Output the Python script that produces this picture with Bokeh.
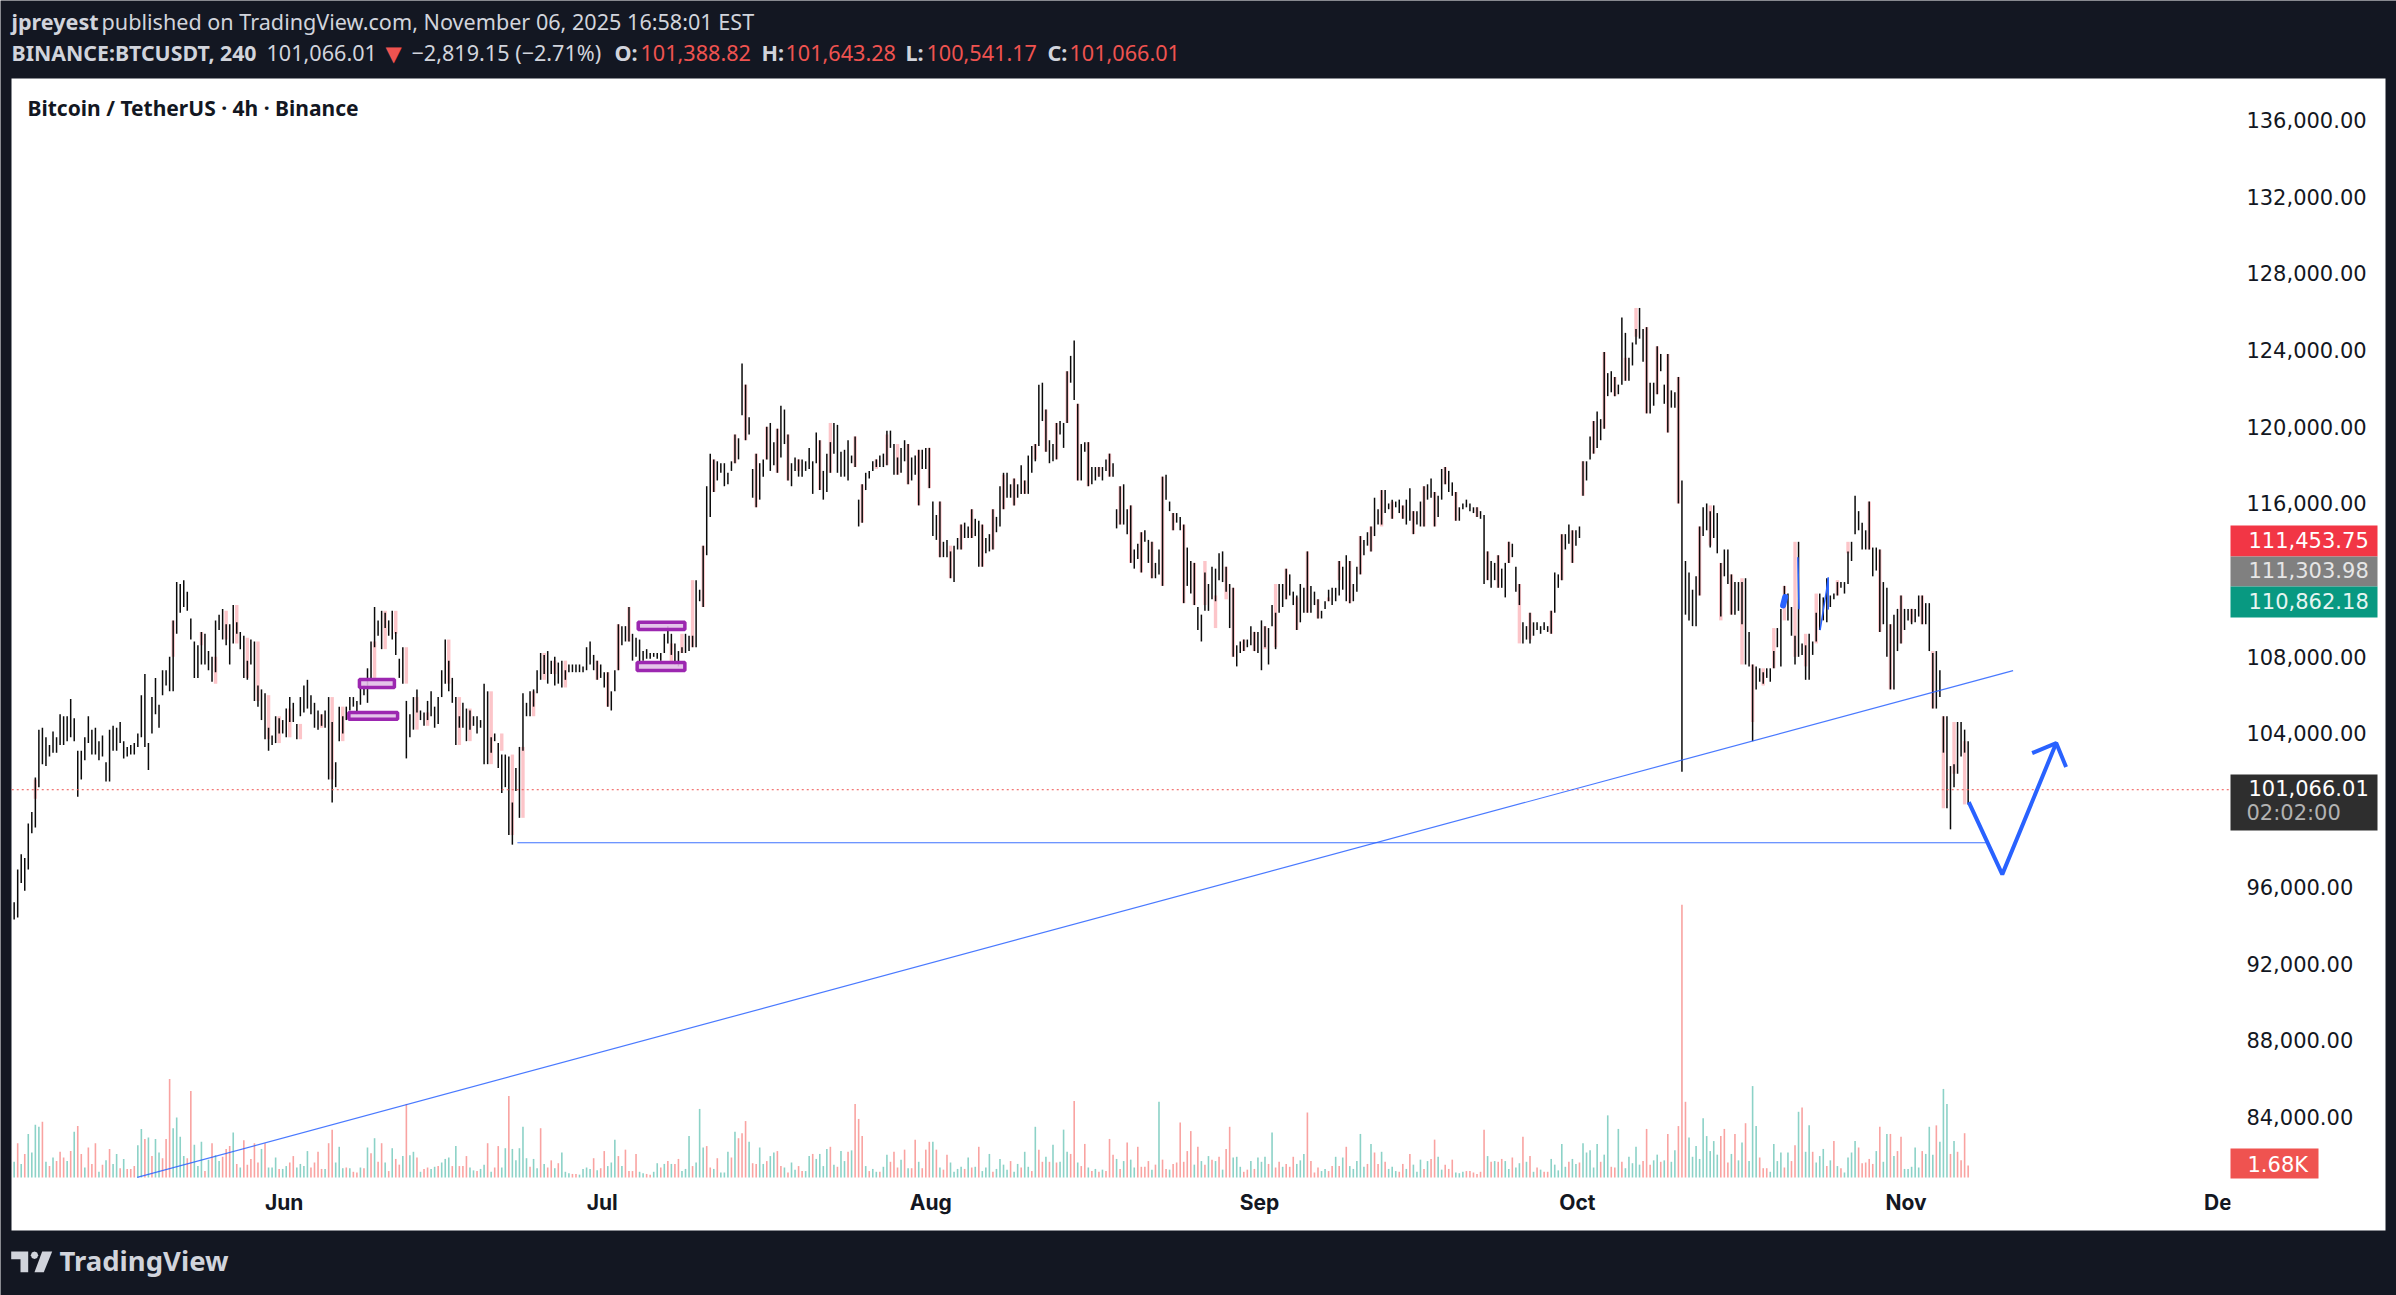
import pandas as pd
from bokeh.embed import file_html
from bokeh.models import (BoxAnnotation, DatetimeTickFormatter, FixedTicker, Label, NumeralTickFormatter,
                          PolyAnnotation, Range1d)
from bokeh.plotting import figure
from bokeh.resources import INLINE

# 8h readings, prices in thousands of USDT
highs = [
    95.2,96.9,97.7,97.5,99.3,99.9,101.7,104.2,104.3,103.8,
    103.4,104.1,103.8,105.0,104.9,104.9,105.8,104.8,103.1,103.1,
    103.8,104.9,104.2,104.3,103.6,103.9,102.5,104.2,104.4,104.3,
    104.6,103.6,103.3,103.4,103.5,104.0,106.0,107.1,103.5,105.9,
    106.9,105.5,107.3,107.3,108.0,109.9,111.9,111.8,112.0,111.4,
    110.0,108.8,108.6,109.3,109.2,108.3,108.0,109.9,110.2,110.5,
    109.7,109.7,110.7,109.8,109.3,109.1,107.8,108.9,108.8,106.5,
    106.3,106.1,104.3,103.9,104.9,104.8,104.7,105.3,105.9,105.6,
    104.5,105.9,106.5,106.8,106.0,105.6,105.2,105.0,105.2,105.9,
    104.6,102.5,105.4,104.9,105.4,105.9,105.9,105.7,106.5,106.5,
    107.4,108.8,110.6,109.9,110.4,110.3,109.9,110.4,109.3,107.9,
    108.5,105.7,105.0,105.9,106.3,105.2,105.1,105.7,106.2,105.4,
    105.9,107.3,108.9,107.8,106.9,105.9,104.9,105.6,105.3,105.2,
    104.9,104.9,104.7,106.6,106.2,103.8,104.0,103.5,102.9,102.9,
    102.8,100.4,102.2,103.3,106.1,105.6,106.2,106.3,107.3,108.2,
    108.1,108.3,107.8,108.0,107.7,107.8,107.3,107.6,107.6,107.6,
    107.6,107.5,108.5,108.8,108.1,107.8,107.6,107.2,107.2,106.2,
    107.3,109.7,109.6,109.6,110.6,109.2,109.0,108.9,108.3,108.4,
    108.2,108.2,108.2,108.2,109.2,109.6,109.2,108.7,108.3,108.5,
    109.2,109.1,109.1,112.0,111.5,113.8,
    116.9,118.6,118.3,118.2,118.1,118.1,117.6,118.2,119.6,119.4,
    123.3,122.2,120.5,117.8,118.6,118.1,118.3,120.0,120.2,119.2,
    119.9,121.1,120.9,119.6,118.1,118.4,118.3,118.3,118.2,118.9,
    118.2,119.7,119.3,117.7,118.6,119.2,120.2,120.1,118.7,118.8,
    119.3,118.5,119.5,116.2,117.0,117.6,117.7,118.2,118.3,118.5,
    118.6,119.8,119.8,119.1,118.4,118.9,119.3,119.1,118.4,118.5,
    118.8,118.8,118.9,118.9,116.1,115.4,116.1,114.0,114.1,113.5,
    113.8,114.2,114.9,115.0,114.8,115.7,115.2,115.1,114.9,114.2,
    114.4,115.7,115.3,116.9,117.6,117.6,117.0,117.3,117.0,118.0,
    117.2,118.5,119.0,119.1,122.2,122.3,120.9,119.3,119.1,120.2,
    120.3,120.2,122.9,123.7,124.5,121.2,119.1,119.2,119.2,117.9,
    117.9,117.9,117.9,118.3,118.6,118.1,115.7,116.9,117.0,115.7,
    115.9,113.6,113.9,114.5,114.6,114.1,114.0,112.9,113.6,117.4,
    117.5,116.1,115.5,115.5,115.3,114.9,113.7,113.0,112.9,110.6,
    110.2,112.4,111.8,112.7,112.6,113.4,113.5,112.7,111.8,111.6,
    108.6,108.8,108.9,108.9,109.6,109.3,109.3,109.9,109.6,109.5,
    110.7,110.3,111.8,111.8,112.6,112.3,111.4,111.2,111.8,111.6,
    113.5,111.7,111.4,111.0,110.4,110.9,111.5,111.6,111.6,113.0,
    112.7,113.3,113.0,111.8,112.7,114.3,114.1,114.5,114.8,116.3,
    115.7,116.7,116.7,116.0,116.2,116.1,116.2,115.9,116.2,116.8,
    115.6,115.6,116.1,116.9,117.0,117.3,116.6,116.4,117.8,117.9,
    117.7,117.1,116.6,115.8,116.0,116.2,116.0,115.8,115.8,115.6,
    115.4,113.5,113.0,112.9,113.3,112.6,112.9,114.0,113.9,112.7,
    111.8,109.8,109.6,110.3,109.8,109.8,109.6,109.8,109.6,110.4,
    112.4,112.3,114.4,114.4,114.9,114.6,114.6,114.8,118.2,118.2,
    119.5,120.3,120.8,120.4,123.9,122.8,122.9,122.6,122.2,125.7,
    124.9,123.6,124.4,125.1,126.2,125.1,125.2,122.3,122.3,124.2,
    123.8,122.2,123.8,121.9,121.8,122.6,117.2,113.0,112.4,111.5,
    112.2,114.8,115.8,116.0,115.6,115.9,115.5,112.9,113.6,113.6,
    112.3,111.9,111.9,111.9,112.1,109.3,107.6,107.5,107.4,107.2,
    107.4,107.4,108.3,109.5,110.5,111.7,111.3,110.6,109.1,114.0,
    108.7,108.6,109.2,108.8,110.3,111.3,111.1,112.1,111.2,111.3,
    111.9,111.9,111.9,113.5,114.0,116.4,115.6,115.0,114.6,116.1,
    113.7,113.7,113.6,111.9,111.6,109.7,110.2,110.5,111.2,110.5,
    110.5,110.5,110.5,111.2,111.2,110.8,110.8,108.2,108.3,107.3,
    104.9,104.9,102.3,102.4,104.6,104.6,104.2,103.6,
]
lows = [
    94.3,94.4,96.2,95.8,96.9,98.8,99.1,101.2,102.4,102.3,
    102.8,103.0,103.0,103.4,103.4,103.6,103.8,103.6,100.7,101.6,
    102.6,103.5,102.9,102.9,102.6,102.8,101.5,101.5,103.1,103.1,
    103.5,102.7,102.8,102.9,102.9,103.3,103.8,103.3,102.1,104.0,
    105.0,104.3,106.0,106.5,106.2,106.2,109.2,110.3,110.6,110.4,
    108.9,106.9,106.9,107.6,107.6,107.3,106.7,107.2,109.4,108.9,
    108.6,107.6,108.7,109.2,108.4,106.9,106.8,107.6,105.7,105.4,
    104.7,103.7,103.1,103.4,103.5,104.0,104.0,103.8,104.6,104.6,
    103.7,104.9,105.1,105.3,105.0,104.3,104.2,104.4,104.3,101.6,
    100.4,101.2,103.6,104.0,104.7,105.2,105.4,105.0,105.5,106.0,
    105.6,106.9,108.5,109.1,108.4,109.5,109.1,108.9,108.1,106.9,
    106.6,102.7,103.8,104.2,105.1,104.7,104.4,104.7,104.9,104.3,
    104.5,105.9,106.6,106.2,105.6,103.4,104.3,104.3,103.6,104.2,
    104.4,104.0,104.3,102.4,102.4,103.0,103.6,102.2,100.9,101.2,
    98.7,98.2,101.0,99.6,103.1,104.9,104.9,105.4,106.1,106.8,
    107.1,106.6,107.1,106.5,106.6,106.4,106.8,107.2,107.2,107.2,
    107.2,107.2,107.3,107.6,107.3,106.8,106.9,106.4,105.4,105.2,
    106.2,107.3,108.6,108.8,108.8,107.8,108.0,107.6,107.8,107.9,
    107.9,108.0,107.9,107.8,108.2,108.7,108.1,107.6,107.5,108.2,
    108.2,108.3,108.5,108.5,110.9,110.6,
    113.3,115.3,116.6,117.2,117.6,116.9,117.0,117.7,118.1,118.3,
    120.6,119.3,119.6,116.3,115.8,116.2,117.4,118.3,117.7,118.0,
    117.6,118.4,119.1,117.2,116.9,117.7,117.4,117.4,117.7,117.8,
    116.5,118.1,116.7,116.2,116.6,117.6,118.6,117.6,117.4,117.4,
    117.2,118.1,117.9,114.8,115.0,116.7,117.3,117.7,117.9,117.9,
    117.9,118.0,118.9,117.5,117.5,117.6,118.2,117.0,117.2,117.5,
    115.9,117.8,117.8,116.8,114.3,114.1,113.2,113.2,113.2,112.1,
    111.9,113.6,113.6,114.2,114.2,114.2,114.3,112.7,112.7,113.4,
    113.5,113.6,114.5,114.8,115.7,116.3,116.3,115.9,116.3,116.5,
    116.5,116.5,117.6,118.2,119.0,120.3,118.7,118.1,118.2,118.3,
    119.6,118.9,120.2,122.3,121.4,117.2,117.2,118.7,116.9,117.0,
    117.2,117.4,117.2,117.7,117.4,117.4,114.7,114.9,114.9,114.4,
    112.9,112.6,113.1,112.4,114.0,112.9,112.1,112.1,112.3,111.7,
    116.2,115.6,114.6,115.0,114.6,110.8,111.7,111.3,110.7,109.4,
    108.8,110.4,110.4,111.0,110.9,112.0,111.9,111.4,109.5,108.0,
    107.5,108.2,108.3,108.5,108.6,108.3,108.2,107.3,108.5,107.6,
    109.6,108.4,110.3,110.6,111.0,111.2,110.7,109.4,109.8,110.3,
    110.3,110.3,110.7,110.0,110.0,110.5,110.9,110.7,110.9,111.2,
    111.5,110.9,110.8,110.9,111.4,112.3,113.3,113.8,113.5,114.3,
    114.9,114.9,115.5,115.7,115.2,115.8,115.5,115.2,114.9,115.1,
    114.4,114.9,114.8,114.8,116.2,116.3,114.8,115.3,116.2,117.0,
    116.6,116.4,115.1,115.1,115.7,115.8,115.6,115.5,115.3,115.2,
    111.8,112.0,111.6,112.0,111.6,111.6,111.1,112.9,113.2,111.4,
    110.7,108.7,108.9,108.7,109.1,109.4,109.2,109.4,109.3,109.2,
    110.3,111.6,112.0,113.6,113.9,112.9,113.8,114.2,116.4,117.2,
    118.3,118.6,118.9,119.3,119.9,121.6,121.8,121.6,121.7,122.2,
    122.4,122.4,123.2,124.3,124.6,123.4,120.7,120.7,121.1,121.7,
    122.9,121.2,119.7,121.0,121.0,116.0,102.0,110.2,109.9,109.6,
    109.6,111.2,114.3,114.6,113.7,114.2,113.4,110.1,112.2,111.8,
    110.2,110.2,110.4,109.7,107.6,107.5,103.6,106.3,106.7,106.6,
    106.9,106.7,107.4,108.5,107.5,110.6,109.9,109.1,107.6,108.0,
    108.1,106.8,106.8,108.1,108.8,109.4,109.9,109.8,110.6,111.0,
    111.2,111.6,111.3,111.8,113.0,114.4,114.6,113.6,113.6,113.6,
    112.2,112.5,109.3,109.7,108.0,106.3,106.3,108.3,108.7,109.4,
    109.9,109.7,109.8,110.1,109.7,109.7,108.3,105.3,105.3,105.9,
    103.0,100.1,99.0,101.2,101.9,102.8,103.0,100.3,
]
# down candles whose body shows pink: bar number, open, close
body_bars = [6,45,53,57,60,63,66,69,72,75,78,81,87,90,93,102,105,108,111,114,117,123,126,129,135,138,141,144,147,
             150,153,156,165,168,171,174,186,189,192,195,198,204,207,210,213,216,219,222,228,231,238,240,244,247,
             250,253,256,259,262,265,268,271,274,277,280,283,286,289,292,295,298,301,304,307,310,313,316,319,322,
             325,328,331,334,337,340,343,345,348,351,354,357,360,363,366,369,372,375,378,381,384,387,390,393,396,
             399,402,405,408,414,417,420,423,426,429,435,438,441,444,447,450,453,456,459,462,465,468,471,477,480,
             483,486,489,492,495,498,501,504,507,510,516,519,525,528,531,534,537,540,543,546,549,552]
body_open = [101.6,109.9,109.3,108.0,110.4,110.7,109.0,108.8,106.0,104.9,105.3,104.5,105.0,105.9,105.4,108.8,110.4,
             110.4,108.5,105.9,105.1,108.9,105.9,105.3,106.2,104.0,102.9,103.3,106.2,108.2,107.8,107.8,107.8,107.2,
             109.7,110.6,108.7,109.2,112.0,113.8,118.3,119.6,122.2,118.6,120.0,119.9,119.6,118.3,119.3,120.2,119.5,
             117.0,118.3,119.6,119.1,119.1,118.8,118.9,116.1,113.8,114.9,115.7,114.9,115.7,117.5,117.3,117.2,119.1,
             120.9,120.2,122.9,121.2,119.2,117.9,118.6,116.9,115.9,114.5,114.0,117.4,115.5,114.9,112.9,113.0,111.2,
             112.7,111.6,108.9,109.3,109.6,111.8,112.6,111.1,113.5,111.0,111.1,113.0,113.0,114.3,114.8,116.7,116.1,
             115.9,115.6,116.9,116.6,117.9,116.6,115.8,113.5,113.3,114.0,111.8,110.3,110.4,114.4,114.6,118.2,120.3,
             123.9,122.6,123.6,126.2,125.2,124.2,123.8,122.6,114.8,115.9,112.9,112.3,112.1,107.6,107.4,109.5,111.7,
             114.0,109.2,111.3,112.0,114.0,116.1,113.6,109.7,111.2,110.5,111.2,108.3,104.9,104.6,103.6]
body_close = [100.6,108.0,108.6,106.6,108.9,108.7,106.9,105.7,103.7,103.5,103.8,103.7,104.3,101.6,103.6,106.9,108.4,
              109.2,106.6,104.2,104.4,106.6,103.4,103.6,102.4,103.1,98.7,99.6,104.9,106.8,107.1,106.4,106.8,105.4,
              107.3,108.8,107.6,108.2,108.5,110.6,116.6,118.1,119.3,115.8,118.3,117.6,117.2,117.7,116.7,117.6,117.9,
              115.0,117.8,118.0,117.5,117.0,115.9,116.8,113.2,112.1,113.6,114.2,112.7,113.6,115.7,115.9,116.5,118.3,
              118.7,118.3,120.2,117.2,116.9,117.4,117.4,114.9,112.9,112.4,112.1,111.7,114.6,110.8,110.7,110.7,109.5,
              111.0,108.0,108.3,108.3,108.4,108.5,111.0,109.4,110.3,110.0,110.9,112.0,110.8,112.3,113.5,114.8,115.2,
              115.2,114.4,114.8,114.8,117.0,115.1,115.3,112.0,111.6,112.9,108.7,108.9,109.2,112.0,112.9,116.4,118.6,
              119.9,121.6,122.4,124.7,120.7,121.7,119.7,116.0,111.2,113.8,109.9,110.2,107.6,104.6,106.5,107.4,109.9,
              108.0,107.5,108.7,111.2,113.4,113.6,109.3,106.3,108.7,109.8,109.7,105.3,100.1,101.9,100.3]
# thousands of BTC, negative when the bar closed down
volumes = [
    2.2,-4.8,1.9,-3.3,6.1,3.5,7.4,7.1,-7.8,2.2,-1.6,2.8,-2.3,-3.6,-2.8,2.3,-3.7,6.4,-7.2,-3.3,
    1.4,-4.2,-1.9,-4.8,0.8,-1.8,2.4,-4.0,1.9,3.3,-1.3,2.6,-1.2,-1.2,-1.6,4.5,6.8,-5.4,5.6,-3.0,
    5.4,3.5,-2.7,-5.4,-13.8,6.9,8.4,5.7,3.0,-2.7,-12.1,4.6,1.6,5.0,-0.9,2.5,-4.8,3.1,2.3,-2.9,
    -4.0,-4.4,6.3,-1.9,1.4,-5.2,-1.8,-2.6,-4.8,-2.1,4.0,-4.8,1.4,1.4,2.8,-1.2,1.2,1.6,-2.1,-3.0,
    1.4,1.9,1.6,3.7,-1.4,-2.1,-3.6,-1.2,1.2,-4.8,-6.7,2.1,4.3,1.3,-1.4,1.3,-0.8,-0.7,1.4,-1.3,
    4.2,-3.4,5.5,-2.2,-4.8,2.1,-0.9,4.1,-2.6,-1.8,3.0,-10.3,3.1,3.6,-2.8,0.8,-1.2,-1.4,1.2,1.5,
    -1.6,2.1,2.6,2.8,-1.6,4.4,-1.6,-1.6,-3.0,1.4,1.0,-0.9,1.2,1.8,-4.8,0.8,-1.4,-4.4,1.4,4.1,
    -11.4,4.0,2.4,4.1,7.1,2.7,-1.5,2.6,1.3,-6.9,1.9,-1.4,-2.4,1.3,-2.0,3.5,0.8,0.6,-0.5,-0.5,
    0.4,1.2,1.4,1.2,-2.7,1.0,-1.3,-3.7,1.6,2.1,5.3,-3.0,1.6,-3.9,-0.9,-0.9,-3.3,0.8,0.6,-0.5,
    -0.4,0.8,2.0,-1.4,1.9,-2.3,1.9,-1.9,-2.6,0.9,1.2,5.8,-1.6,2.1,9.6,4.2,-4.4,-1.4,1.2,-2.7,
    0.7,0.7,3.6,-2.8,6.4,-5.5,-6.2,-7.9,5.0,-2.0,-1.9,4.2,1.9,-2.3,3.0,3.5,-3.7,-1.6,1.4,-0.7,
    2.1,1.1,-1.6,-0.9,0.9,3.0,-3.3,2.6,3.3,1.6,4.0,-4.3,1.8,-1.5,3.7,2.3,-3.6,3.8,-10.3,-8.2,
    -5.8,1.6,-0.9,1.2,0.8,-0.8,1.5,3.2,-2.2,-3.6,-1.4,2.5,-3.9,1.3,-1.3,-5.3,2.2,-1.3,-3.9,-5.0,
    5.0,-3.9,1.4,-1.1,-3.2,2.1,0.8,1.2,1.5,-1.2,2.8,-1.4,1.5,-4.3,0.9,1.4,3.3,-0.8,1.2,2.6,
    1.8,1.1,-2.3,0.8,1.9,-1.4,3.6,1.5,-0.9,7.1,-3.9,-2.2,2.9,-2.2,4.6,-2.1,2.2,6.7,3.6,-3.3,
    -10.7,2.1,-1.6,-4.7,1.4,-0.9,1.2,-0.8,1.1,-0.9,-5.4,-3.2,2.6,-1.2,2.3,-4.9,2.5,1.4,-4.3,-1.5,
    -1.5,-2.3,1.1,-1.8,10.6,-2.5,-1.2,1.1,-1.9,-2.1,-7.7,-2.2,-3.7,
    -6.5,1.8,-4.3,2.3,-1.8,3.0,-2.5,2.3,-2.9,1.1,-4.0,-7.1,2.8,2.9,1.5,-0.8,-1.1,2.3,-1.2,2.8,
    2.2,2.9,-1.9,6.3,-1.4,-2.2,1.5,-1.9,-1.5,-2.9,1.9,2.4,3.3,-9.1,-2.3,-0.7,-1.4,0.9,1.2,-0.9,
    -1.6,2.9,-1.6,2.8,-4.3,1.6,1.2,2.3,6.1,1.5,-1.9,4.7,-3.5,-1.9,3.6,-2.2,1.2,1.5,0.9,-0.8,
    -1.9,1.2,-3.3,1.8,0.8,2.5,-1.2,2.3,-2.6,-5.3,2.9,1.1,-1.8,-1.2,-2.5,0.7,0.6,0.8,-0.9,-0.9,
    -0.7,-0.5,-0.8,-6.7,3.0,-2.2,2.3,-2.2,-2.6,2.3,1.2,-2.8,1.4,2.0,-5.7,2.2,-3.0,0.8,-1.4,1.1,
    -0.8,-0.8,2.6,1.8,1.0,4.7,1.5,-2.2,2.6,1.9,
    -2.1,4.8,3.5,3.8,1.4,4.7,-2.2,3.2,8.7,-1.5,-1.4,6.8,-2.2,1.3,2.9,2.0,4.3,1.8,-2.3,-6.8,
    -1.8,2.4,3.2,-2.2,2.4,-6.1,2.2,3.8,-7.2,-38.2,-10.6,5.6,2.9,4.4,2.6,8.3,5.8,3.7,5.1,3.2,
    -5.8,-6.8,-2.1,3.3,-6.1,2.4,4.9,-7.6,2.3,12.8,7.2,-2.8,-1.3,-1.3,0.8,4.7,2.3,3.5,-1.4,3.5,
    -2.3,-4.5,9.2,-9.8,3.6,7.3,-3.6,2.1,3.0,4.0,-1.6,2.4,-5.1,1.6,-1.3,0.7,2.8,3.5,5.1,-4.2,
    -2.0,-2.1,-2.6,-1.9,3.7,-7.1,2.2,6.1,-6.1,3.0,-3.7,-5.7,1.2,1.2,1.5,4.2,1.4,-3.7,3.3,7.1,
    3.2,-7.3,5.0,12.4,10.3,-3.3,5.1,-3.6,-2.4,-6.2,-1.68,
]

price_ticks = [84000, 88000, 92000, 96000, 100000, 104000, 108000, 116000, 120000, 124000, 128000, 132000, 136000]
month_ticks = ["2025-06-01", "2025-07-01", "2025-08-01", "2025-09-01", "2025-10-01", "2025-11-01", "2025-12-01"]

# drawings, x in days from 1 June, y in thousands
boxes_left = [7.1, 6.1, 33.4, 33.3]
boxes_right = [10.4, 10.7, 37.8, 37.8]
boxes_top = [106.82, 105.1, 109.8, 107.71]
boxes_bottom = [106.4, 104.74, 109.43, 107.29]
trend_x, trend_y = [-13.87, 163.1], [80.84, 107.28]
level_x, level_y = [22.0, 160.8], [98.3, 98.3]
path_x, path_y = [158.92, 162.08, 167.17], [100.42, 96.65, 103.5]
head_x, head_y = [164.9, 167.17, 168.1], [102.98, 103.5, 102.25]
scribble_x = [[141.4, 141.6], [142.8, 142.9], [144.9, 145.5, 145.66, 145.66]]
scribble_y = [[110.68, 111.12], [113.17, 110.51], [109.42, 111.47, 112.15, 110.5]]
last_x = [-25.7, 183.6]
last_price = 101066.01

DARK = "#131722"
BLUE = "#2962ff"
JUN1 = pd.Timestamp("2025-06-01")


def days(values):
    return [JUN1 + pd.Timedelta(days=v) for v in values]


def thousands(values):
    return [v * 1000 for v in values]


bar_times = pd.date_range("2025-05-06 12:40", periods=len(highs), freq="8h")

# the frame fills the page, the axes sit inside it at fixed locations
p = figure(
    width=2396, height=1295,
    x_axis_type="datetime", y_axis_location="right",
    x_range=Range1d(*days([-26.76, 199.27])),
    y_range=Range1d(74680, 142240),
    output_backend="svg", toolbar_location=None,
    min_border=0, background_fill_color=DARK, border_fill_color=DARK, outline_line_color=None,
)
p.styles = {"position": "absolute", "left": "0px", "top": "0px"}
p.grid.visible = False
p.extra_y_ranges = {"volume": Range1d(-16.52, 164.78)}


def box(left, right, top, bottom, color, level="annotation"):
    p.add_layout(BoxAnnotation(left=left, right=right, top=top, bottom=bottom,
                               left_units="canvas", right_units="canvas", top_units="canvas", bottom_units="canvas",
                               fill_color=color, fill_alpha=1, line_color=None, level=level))


def text(x, y, value, color, size=21.6, font="Noto Sans", style="normal"):
    p.add_layout(Label(x=x, y=y, x_units="canvas", y_units="canvas", text=value, text_color=color,
                       text_font=font, text_font_size=f"{size}px", text_font_style=style,
                       text_baseline="middle", level="overlay"))


box(11, 2385, 78, 1230, "white", level="underlay")

# volume pane
signs = ["#8cd2c7" if v >= 0 else "#f9a3a1" for v in volumes]
p.segment(bar_times, 0, bar_times, [abs(v) for v in volumes], color=signs, line_width=1.6,
          y_range_name="volume")

# candles
p.segment(bar_times[body_bars], thousands(body_open), bar_times[body_bars], thousands(body_close),
          color="#fcc5c9", line_width=3.4)
p.segment(bar_times, thousands(lows), bar_times, thousands(highs), color="#0a0a0a", line_width=1.5)

p.line(days(last_x), [last_price, last_price], color="#ef5350", line_dash=[2, 3], line_width=1)

# drawings
p.quad(left=days(boxes_left), right=days(boxes_right), top=thousands(boxes_top), bottom=thousands(boxes_bottom),
       fill_color="#e1bee7", fill_alpha=0.9, line_color="#9c27b0", line_width=3.5)
p.line(days(trend_x), thousands(trend_y), color=BLUE, line_width=1.2, line_alpha=0.85)
p.line(days(level_x), thousands(level_y), color=BLUE, line_width=1.2, line_alpha=0.9)
p.line(days(path_x), thousands(path_y), color=BLUE, line_width=4)
p.line(days(head_x), thousands(head_y), color=BLUE, line_width=4)
for sx, sy, lw in zip(scribble_x, scribble_y, [6, 1.5, 1.5]):
    p.line(days(sx), thousands(sy), color=BLUE, line_width=lw, line_cap="round")

# axes
p.yaxis.fixed_location = days([183.6])[0].value / 1e6
p.yaxis.ticker = FixedTicker(ticks=price_ticks)
p.yaxis.formatter = NumeralTickFormatter(format="0,0.00")
p.yaxis.major_label_text_font = "DejaVu Sans"
p.yaxis.major_label_text_font_size = "21px"
p.yaxis.major_label_text_color = "#131722"
p.yaxis.major_tick_out = 0
p.yaxis.major_label_standoff = 16
p.yaxis.axis_line_color = None
p.yaxis.major_tick_line_color = None
p.yaxis.minor_tick_line_color = None

p.xaxis.fixed_location = 80840
p.xaxis.ticker = FixedTicker(ticks=[pd.Timestamp(d).value / 1e6 for d in month_ticks])
p.xaxis.formatter = DatetimeTickFormatter(days="%b", months="%b", hours="%b")
p.xaxis.major_label_text_font = "Inter"
p.xaxis.major_label_text_font_size = "21px"
p.xaxis.major_label_text_font_style = "bold"
p.xaxis.major_label_text_color = "#131722"
p.xaxis.major_tick_out = 0
p.xaxis.major_label_standoff = 13
p.xaxis.axis_line_color = None
p.xaxis.major_tick_line_color = None
p.xaxis.minor_tick_line_color = None

# the Dec tick runs under the price scale
box(2230, 2300, 1185, 1226, "white")

# price tags
box(2230, 2377, 525, 556, "#f23645")
box(2230, 2377, 556, 586, "#808080")
box(2230, 2377, 586, 617, "#089981")
box(2230, 2377, 774, 830, "#2e2e2e")
box(2230, 2318, 1148, 1178, "#ef5350")
text(2248, 539, "111,453.75", "white", size=21, font="DejaVu Sans")
text(2248, 569, "111,303.98", "#e6e6e6", size=21, font="DejaVu Sans")
text(2248, 600, "110,862.18", "#e6f5f1", size=21, font="DejaVu Sans")
text(2248, 787, "101,066.01", "white", size=21, font="DejaVu Sans")
text(2246, 812, "02:02:00", "#b2b2b2", size=21, font="DejaVu Sans")
text(2247, 1164, "1.68K", "white", size=21, font="DejaVu Sans")

# header
LIGHT = "#d1d4dc"
RED = "#ef5350"
text(11, 20.5, "jpreyest", LIGHT, style="bold")
text(101, 20.5, "published on TradingView.com, November 06, 2025 16:58:01 EST", LIGHT)
text(11, 52, "BINANCE:BTCUSDT, 240", LIGHT, size=21.3, style="bold")
text(266, 52, "101,066.01", LIGHT)
text(385, 53, "\u25bc", RED, size=21, font="DejaVu Sans")
text(411, 52, "\u22122,819.15 (\u22122.71%)", LIGHT)
for x, name in [(614, "O:"), (761, "H:"), (905, "L:"), (1047, "C:")]:
    text(x, 52, name, LIGHT, style="bold")
for x, value in [(640, "101,388.82"), (785, "101,643.28"), (926, "100,541.17"), (1069, "101,066.01")]:
    text(x, 52, value, RED)

text(27, 107, "Bitcoin / TetherUS \u00b7 4h \u00b7 Binance", "#131722", size=21, style="bold")

# TradingView logo
logo_xs = [[10.7, 27.7, 27.7, 20, 20, 10.7],
           [34, 36.6, 37.7, 36.6, 34, 31.4, 30.3, 31.4],
           [41.7, 51.7, 43.3, 34]]
logo_ys = [[1251, 1251, 1271.7, 1271.7, 1258.7, 1258.7],
           [1251, 1252, 1254.7, 1257.4, 1258.4, 1257.4, 1254.7, 1252],
           [1251, 1251, 1271.7, 1271.7]]
for xs, ys in zip(logo_xs, logo_ys):
    p.add_layout(PolyAnnotation(xs=xs, ys=ys, xs_units="canvas", ys_units="canvas",
                                fill_color=LIGHT, fill_alpha=1, line_color=None))
text(59, 1260, "TradingView", LIGHT, size=27.5, style="bold")

open("out.html", "w").write(file_html(p, INLINE))
